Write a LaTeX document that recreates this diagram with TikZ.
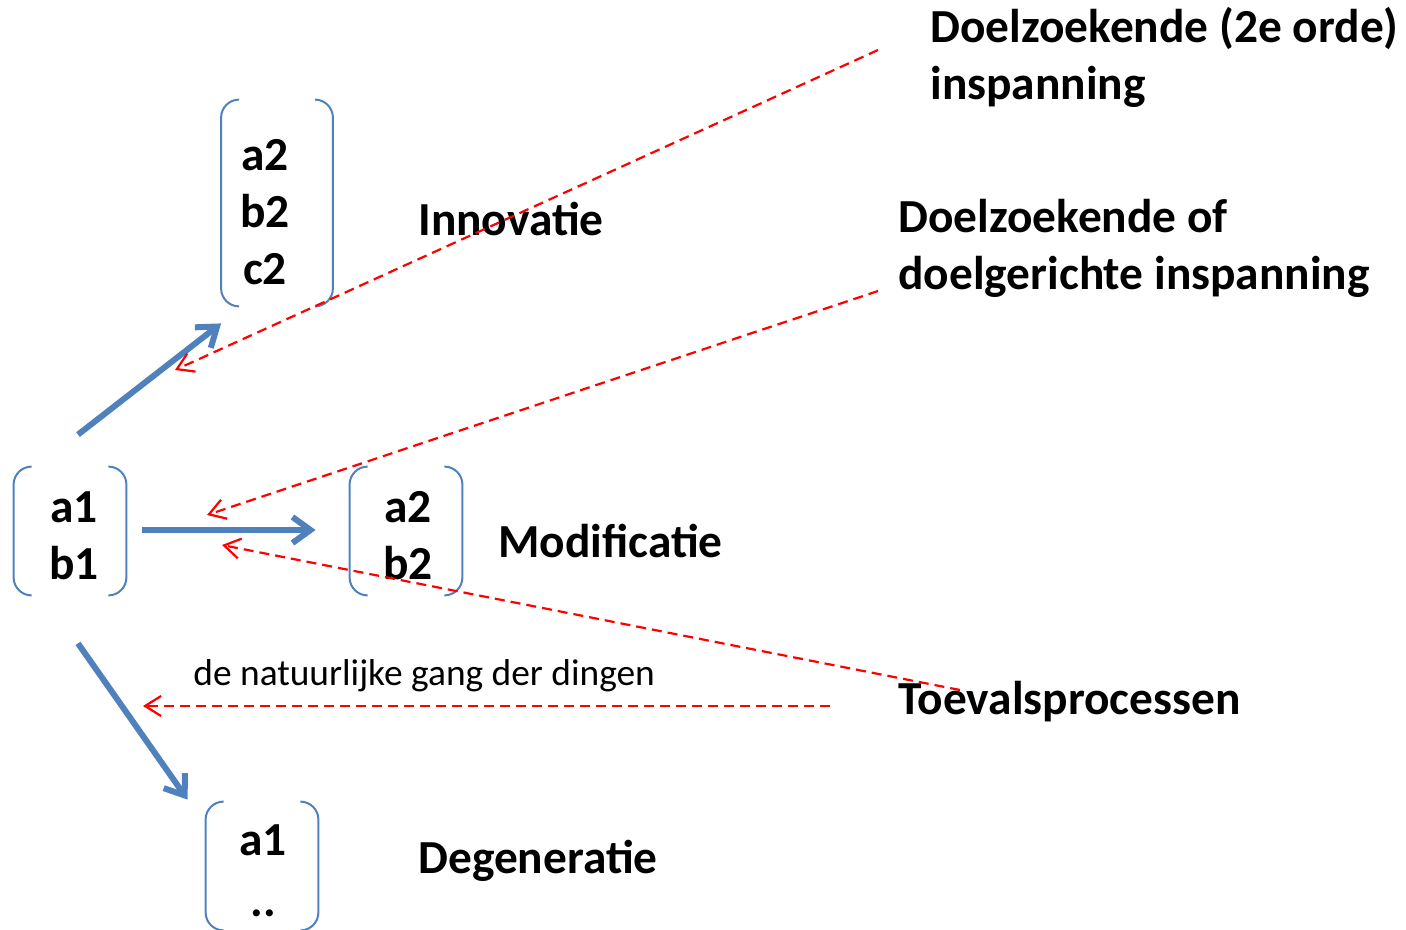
\documentclass[tikz,border=0pt]{standalone}
\usepackage{fontspec}
\setmainfont{Carlito}
\usepackage{xcolor}
\usetikzlibrary{arrows.meta, positioning, calc}

\definecolor{flowblue}{RGB}{79,129,189}

\begin{document}
\begin{tikzpicture}[x=0.5pt, y=-0.5pt,
    vec/.style={inner sep=0pt, minimum width=56pt, minimum height=64pt},
    vtxt/.style={inner sep=0pt, align=center, font=\fontsize{23.7}{28.5}\selectfont\bfseries},
    brk/.style={flowblue, line width=1pt, rounded corners=9pt},
    flow/.style={flowblue, line width=3pt, -{Straight Barb[length=9pt,width=13pt]}},
    effort/.style={red, line width=1.1pt, dash pattern=on 5pt off 3pt, -{Straight Barb[length=8pt,width=10pt]}},
    lbl/.style={anchor=west, align=left, inner sep=0pt, font=\fontsize{23.7}{28.5}\selectfont\bfseries}]
    \useasboundingbox (0,0) rectangle (1406,930);

    % State vectors
    \node[vec] (v1) at (70,531) {};
    \node[vec] (vm) at (406,531) {};
    \node[vec, minimum width=55.5pt, minimum height=103pt] (vi) at (277,203) {};
    \node[vec] (vd) at (262,866) {};
    \node[vtxt] (v1t) at ($(v1)+(4,5)$) {a1\\b1};
    \node[vtxt] (vmt) at ($(vm)+(2,5)$) {a2\\b2};
    \node[vtxt] (vit) at ($(vi)+(-12,9)$) {a2\\b2\\c2};
    \node[vtxt] (vdt) at ($(vd)+(1,5)$) {a1\\[2pt]..};

    % Brackets round the vectors
    \foreach \n in {v1,vm,vi,vd} {
        \draw[brk] ($(\n.north west)+(18,0)$) -- (\n.north west) -- (\n.south west) -- ($(\n.south west)+(18,0)$);
        \draw[brk] ($(\n.north east)+(-18,0)$) -- (\n.north east) -- (\n.south east) -- ($(\n.south east)+(-18,0)$);
    }

    % Transitions
    \draw[flow] ($(v1.north)+(8,-32)$) -- ($(vi.south west)+(0,17)$);
    \draw[flow] ($(v1.east)+(16,-1)$) -- ($(vm.west)+(-34,-1)$);
    \draw[flow] ($(v1.south)+(8,48)$) -- ($(vd.north west)+(-18,-2)$);

    % Labels
    \node[lbl] (innov) at (418,219) {Innovatie};
    \node[lbl] (modif) at (498,541) {Modificatie};
    \node[lbl] (degen) at (418,861) {Degeneratie};
    \node[lbl] (doel2) at (930,57) {Doelzoekende (2e orde)\\inspanning};
    \node[lbl] (doel) at (898,248) {Doelzoekende of\\doelgerichte inspanning};
    \node[lbl] (toeval) at (898,702) {Toevalsprocessen};
    \node[anchor=west, inner sep=0pt, font=\fontsize{18.7}{23}\selectfont] (gang) at (193,676) {de natuurlijke gang der dingen};

    % Causes
    \coordinate (src1) at (878,50);
    \coordinate (src2) at (878,291);
    \coordinate (src3) at (960,690);
    \coordinate (src4) at (830,706);
    \coordinate (tip1) at (175,370);
    \coordinate (tip2) at (207,515);
    \coordinate (tip3) at (222,545);
    \coordinate (tip4) at (143,706);
    \draw[effort] (src1) -- (tip1);
    \draw[effort] (src2) -- (tip2);
    \draw[effort] (src3) -- (tip3);
    \draw[effort] (src4) -- (tip4);
\end{tikzpicture}
\end{document}
